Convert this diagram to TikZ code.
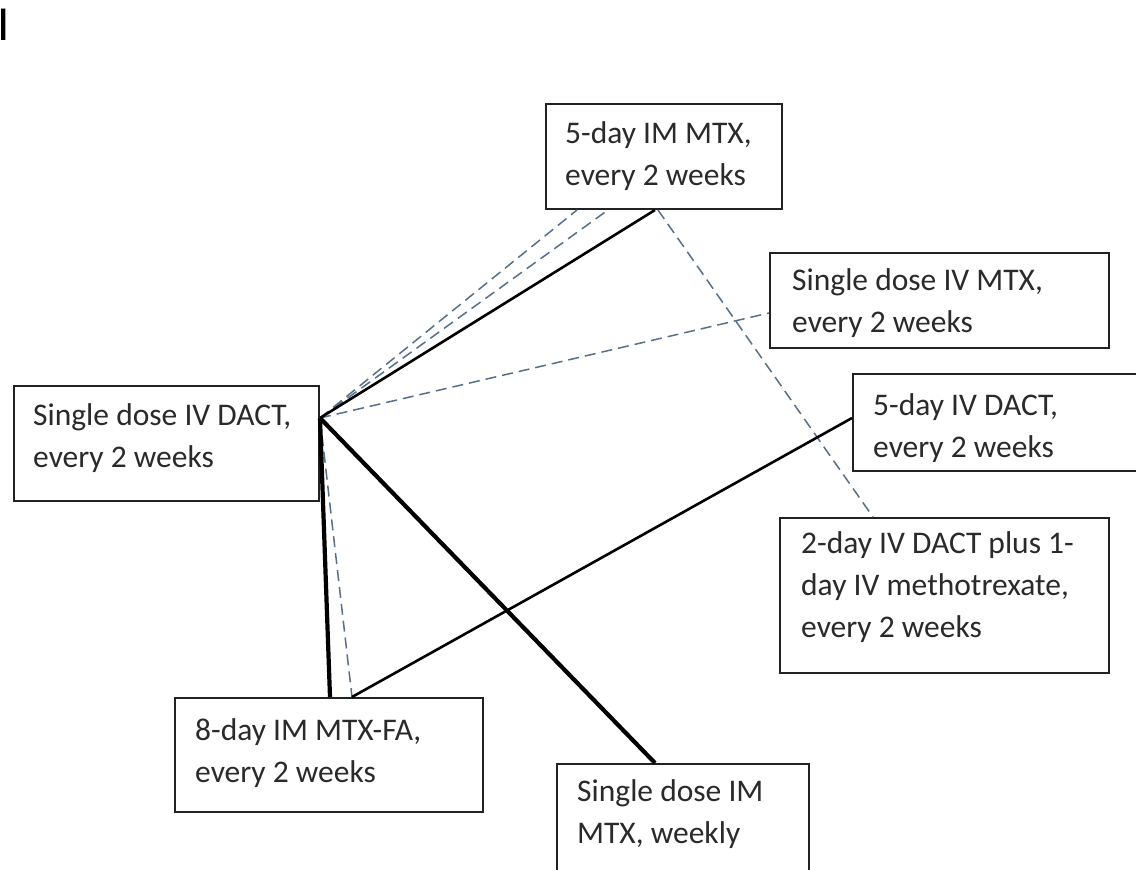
\documentclass[tikz,border=0pt]{standalone}
\usepackage{fontspec}
\setmainfont{Carlito}
\usetikzlibrary{calc}
\definecolor{dashblue}{HTML}{56708A}
\definecolor{boxline}{HTML}{222222}
\definecolor{txt}{HTML}{2A2A2A}
\begin{document}
\begin{tikzpicture}[x=1pt,y=-1pt,
  box/.style={draw=boxline, line width=2pt, inner sep=0pt, anchor=north west},
  lbl/.style={anchor=base west, inner sep=0pt, align=left, font=\fontsize{31.5}{42}\selectfont, text=txt},
  solidc/.style={line width=2.6pt, black},
  thickc/.style={line width=4.2pt, black},
  dashc/.style={line width=1.5pt, dashblue, dash pattern=on 11pt off 6pt}]
\useasboundingbox (0,0) rectangle (1136,870);
\clip (0,0) rectangle (1136,870);
\fill[white] (0,0) rectangle (1136,870);
% panel label
\node[anchor=base west, inner sep=0pt, font=\fontsize{49}{49}\selectfont] (plabel) at (-3,40) {I};
% boxes
\node[box, minimum width=236pt, minimum height=105pt] (m5im) at (545,103) {};
\node[box, minimum width=339pt, minimum height=95pt] (sivmtx) at (769,252) {};
\node[box, minimum width=300pt, minimum height=97pt] (d5iv) at (852,373) {};
\node[box, minimum width=329pt, minimum height=155pt] (combo) at (779,517) {};
\node[box, minimum width=305pt, minimum height=115pt] (sivdact) at (13,385) {};
\node[box, minimum width=308pt, minimum height=114pt] (mtxfa) at (174,697) {};
\node[box, minimum width=252pt, minimum height=150pt] (simmtx) at (556,763) {};
% texts (anchored at the baseline of the last line)
\node[lbl] (t1) at ($(m5im.north west)+(20,82)$) {5-day IM MTX,\\every 2 weeks};
\node[lbl] (t2) at ($(sivmtx.north west)+(23,80)$) {Single dose IV MTX,\\every 2 weeks};
\node[lbl] (t3) at ($(d5iv.north west)+(21,84)$) {5-day IV DACT,\\every 2 weeks};
\node[lbl] (t4) at ($(combo.north west)+(22,120)$) {2-day IV DACT plus 1-\\day IV methotrexate,\\every 2 weeks};
\node[lbl] (t5) at ($(sivdact.north west)+(20,82)$) {Single dose IV DACT,\\every 2 weeks};
\node[lbl] (t6) at ($(mtxfa.north west)+(21,85)$) {8-day IM MTX-FA,\\every 2 weeks};
\node[lbl] (t7) at ($(simmtx.north west)+(21,80)$) {Single dose IM\\MTX, weekly};
% connector end points
\coordinate (hub) at ($(sivdact.north east)+(0,33)$);
\coordinate (m5a) at ($(m5im.south west)+(32,0)$);
\coordinate (m5b) at ($(m5im.south west)+(63,0)$);
\coordinate (m5c) at ($(m5im.south west)+(110,0)$);
\coordinate (m5d) at ($(m5im.south west)+(113,0)$);
\coordinate (ivm) at ($(sivmtx.north west)+(0,61)$);
\coordinate (d5l) at ($(d5iv.north west)+(0,45)$);
\coordinate (cbt) at ($(combo.north west)+(94,0)$);
\coordinate (fa1) at ($(mtxfa.north west)+(156,0)$);
\coordinate (fa2) at ($(mtxfa.north west)+(178,0)$);
\coordinate (smt) at ($(simmtx.north west)+(99,0)$);
% connectors
\draw[dashc] (hub) -- (m5a);
\draw[dashc] (hub) -- (m5b);
\draw[dashc] (hub) -- (ivm);
\draw[dashc] (m5d) -- (cbt);
\draw[dashc] (hub) -- (fa2);
\draw[solidc] (hub) -- (m5c);
\draw[solidc] (fa2) -- (d5l);
\draw[thickc] (hub) -- (fa1);
\draw[thickc] (hub) -- (smt);
\end{tikzpicture}
\end{document}
